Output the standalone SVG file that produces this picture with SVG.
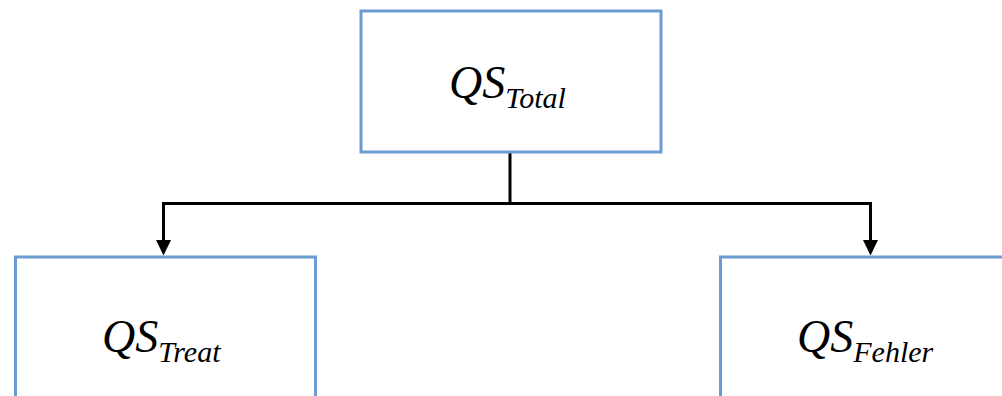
<svg xmlns="http://www.w3.org/2000/svg" width="1002" height="396" viewBox="0 0 1002 396">
<defs>
<path id="arrowhead" d="M-7.5,0 L7.5,0 L0,15.5 Z" fill="#000"/>
</defs>
<rect width="1002" height="396" fill="#fff"/>
<g id="connectors" fill="none" stroke="#000" stroke-width="3">
<path d="M510,152 V203.5"/>
<path d="M163.5,203.5 H870.5"/>
<path d="M163.5,202 V241"/>
<path d="M870.5,202 V241"/>
<use href="#arrowhead" x="163.5" y="240" stroke="none"/>
<use href="#arrowhead" x="870.5" y="240" stroke="none"/>
</g>
<g id="total">
<rect x="361" y="11" width="300" height="141" fill="#fff" stroke="#6b9bd1" stroke-width="3"/>
<text x="449" y="98" font-family="Liberation Serif, Times New Roman, Tinos, serif" font-style="italic" font-size="46" fill="#000">QS<tspan font-size="30" dy="10">Total</tspan></text>
</g>
<g id="treat">
<rect x="15.5" y="257" width="300" height="160" fill="#fff" stroke="#6b9bd1" stroke-width="3"/>
<text x="102" y="352" font-family="Liberation Serif, Times New Roman, Tinos, serif" font-style="italic" font-size="46" fill="#000">QS<tspan font-size="30" dy="10">Treat</tspan></text>
</g>
<g id="fehler">
<rect x="720.5" y="257" width="300" height="160" fill="#fff" stroke="#6b9bd1" stroke-width="3"/>
<text x="797" y="352" font-family="Liberation Serif, Times New Roman, Tinos, serif" font-style="italic" font-size="46" fill="#000">QS<tspan font-size="30" dy="10">Fehler</tspan></text>
</g>
</svg>
